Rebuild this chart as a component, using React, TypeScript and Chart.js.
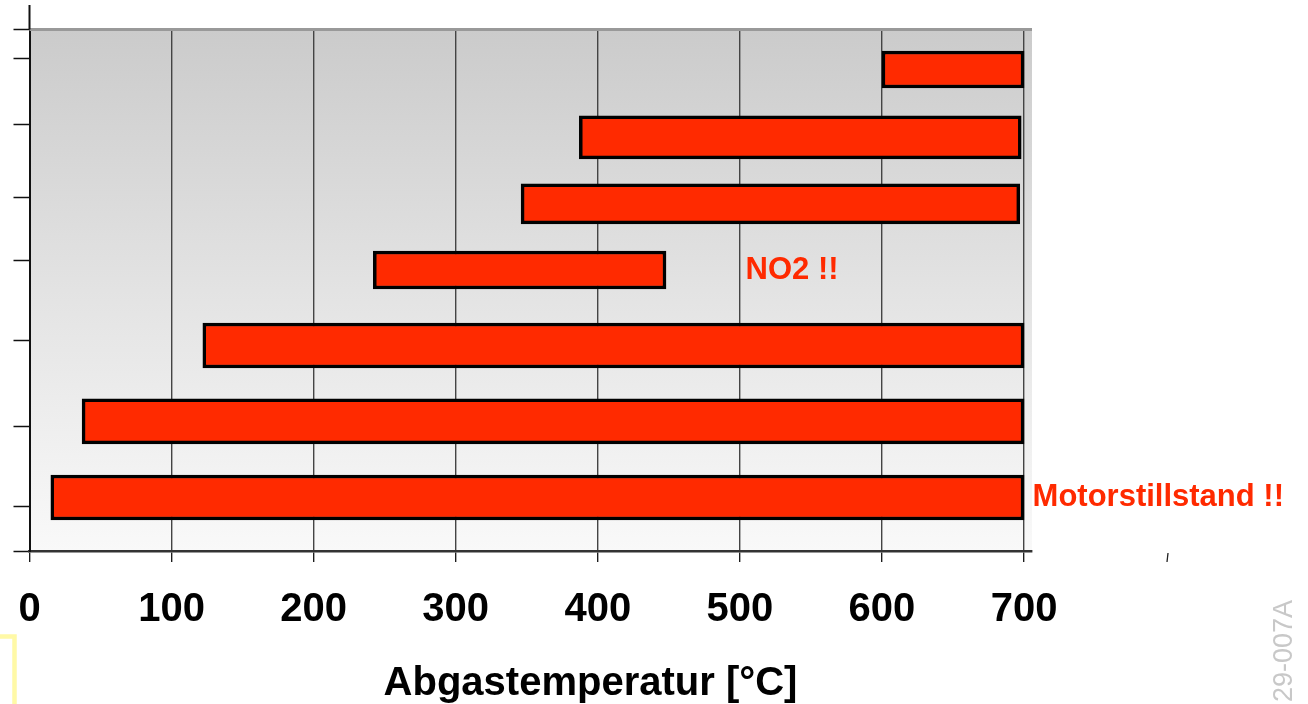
import React, { useEffect, useRef } from 'react';
import { Chart, registerables } from 'chart.js';

Chart.register(...registerables);

// ---- data ----
const rowCenters = [7.67, 20.69, 33.44, 46.12, 60.59, 75.15, 89.74]; // position on vertical axis (0 top .. 100 bottom)
const rangeStart = [600, 387, 346, 242, 122, 37, 15];
const rangeEnd = [700, 698, 697, 448, 700, 700, 700];
const yTickValues = [0, 5.47, 18.31, 32.12, 44.2, 59.73, 76.22, 91.56, 100];
const xTickValues = [0, 100, 200, 300, 400, 500, 600, 700];
const xTitle = 'Abgastemperatur [°C]';
const noteTexts = ['NO2 !!', 'Motorstillstand !!'];
const noteRows = [3, 6];
const noteX = [504, 706];
const codeText = '29-007A';

const FONT = '"Liberation Sans", Arial, Helvetica, sans-serif';
const RED = '#ff2a00';

export default function App() {
  const ref = useRef<HTMLCanvasElement | null>(null);

  useEffect(() => {
    const canvas = ref.current;
    if (!canvas) return;
    const thickness = [37, 43, 40, 38, 45, 45, 45];

    const datasets = rangeStart.map((s, i) => ({
      label: 'r' + i,
      data: [{ x: [s, rangeEnd[i]], y: rowCenters[i] }],
      backgroundColor: RED,
      borderColor: '#000',
      borderWidth: 3.5,
      borderSkipped: false,
      barThickness: thickness[i],
      grouped: false,
    }));

    const decor = {
      id: 'decor',
      beforeDraw(chart: any) {
        const { ctx, chartArea: a } = chart;
        ctx.save();
        const g = ctx.createLinearGradient(0, a.top, 0, a.bottom);
        g.addColorStop(0, '#cbcbcb');
        g.addColorStop(0.5, '#e3e3e3');
        g.addColorStop(1, '#f9f9f9');
        ctx.fillStyle = g;
        ctx.fillRect(a.left, a.top, a.right - a.left, a.bottom - a.top);
        ctx.restore();
      },
      beforeDatasetsDraw(chart: any) {
        const { ctx, chartArea: a } = chart;
        ctx.save();
        ctx.strokeStyle = '#999';
        ctx.lineWidth = 3;
        ctx.beginPath();
        ctx.moveTo(a.left, a.top);
        ctx.lineTo(a.right, a.top);
        ctx.stroke();
        ctx.strokeStyle = '#111';
        ctx.lineWidth = 2;
        ctx.beginPath();
        ctx.moveTo(a.left, 5);
        ctx.lineTo(a.left, a.top);
        ctx.stroke();
        ctx.restore();
      },
      afterDraw(chart: any) {
        const { ctx, chartArea: a, scales } = chart;
        const xs = scales.x;
        const ys = scales.y;
        ctx.save();
        // notes
        ctx.fillStyle = RED;
        ctx.font = `bold 31px ${FONT}`;
        ctx.textAlign = 'left';
        ctx.textBaseline = 'middle';
        noteTexts.forEach((t, i) => {
          ctx.fillText(t, xs.getPixelForValue(noteX[i]), ys.getPixelForValue(rowCenters[noteRows[i]]));
        });
        // axis title
        ctx.fillStyle = '#000';
        ctx.font = `bold 40px ${FONT}`;
        ctx.textAlign = 'center';
        ctx.textBaseline = 'alphabetic';
        ctx.fillText(xTitle, 590.5, 695);
        // stray tick
        ctx.strokeStyle = '#222';
        ctx.lineWidth = 1.3;
        ctx.beginPath();
        ctx.moveTo(1168, a.bottom + 2);
        ctx.lineTo(1167, a.bottom + 11);
        ctx.stroke();
        // rotated code
        ctx.translate(1292, 600);
        ctx.rotate(-Math.PI / 2);
        ctx.fillStyle = '#c8c8c8';
        ctx.font = `27px ${FONT}`;
        ctx.textAlign = 'right';
        ctx.textBaseline = 'alphabetic';
        ctx.fillText(codeText, 0, 0);
        ctx.setTransform(1, 0, 0, 1, 0, 0);
        // yellow bracket
        ctx.strokeStyle = '#fff9a6';
        ctx.lineWidth = 4.5;
        ctx.beginPath();
        ctx.moveTo(0, 636.5);
        ctx.lineTo(14.5, 636.5);
        ctx.lineTo(14.5, 704);
        ctx.stroke();
        ctx.restore();
      },
    };

    const chart = new Chart(canvas, {
      type: 'bar',
      data: { datasets: datasets as any },
      options: {
        animation: false,
        responsive: true,
        maintainAspectRatio: false,
        indexAxis: 'y',
        layout: { padding: { left: 13.5, right: 276, top: 29.5, bottom: 46 } },
        plugins: { legend: { display: false }, tooltip: { enabled: false } },
        scales: {
          x: {
            type: 'linear',
            position: 'bottom',
            min: 0,
            max: 705.6,
            afterBuildTicks: (s: any) => {
              s.ticks = xTickValues.map((v) => ({ value: v }));
            },
            afterFit: (s: any) => {
              s.paddingLeft = 0;
              s.paddingRight = 0;
            },
            ticks: {
              font: { family: FONT, size: 40, weight: 'bold' },
              color: '#000',
              padding: 24,
              maxRotation: 0,
              autoSkip: false,
            },
            grid: {
              color: '#444',
              lineWidth: 1.4,
              drawOnChartArea: true,
              drawTicks: true,
              tickLength: 11,
              tickColor: '#111',
              tickWidth: 1.3,
            },
            border: { display: true, color: '#333', width: 2.5 },
          },
          y: {
            type: 'linear',
            position: 'left',
            reverse: true,
            offset: false,
            min: 0,
            max: 100,
            afterBuildTicks: (s: any) => {
              s.ticks = yTickValues.map((v) => ({ value: v }));
            },
            ticks: { display: false },
            grid: {
              offset: false,
              drawOnChartArea: false,
              drawTicks: true,
              tickLength: 16,
              tickColor: '#111',
              tickWidth: 1.5,
            },
            border: { display: true, color: '#111', width: 2 },
          },
        },
      },
      plugins: [decor],
    } as any);

    return () => chart.destroy();
  }, []);

  return (
    <div style={{ position: 'absolute', left: 0, top: 0, width: 1308, height: 704 }}>
      <canvas ref={ref} />
    </div>
  );
}
